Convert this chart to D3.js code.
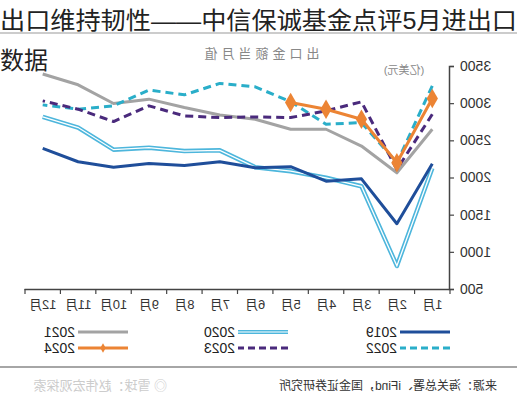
<!DOCTYPE html>
<html><head><meta charset="utf-8">
<script src="https://cdn.jsdelivr.net/npm/d3@7/dist/d3.min.js"></script>
<style>
html,body{margin:0;padding:0;background:#fff;}
svg{display:block;}
text{font-family:"Liberation Sans","Noto Sans CJK SC",sans-serif;}
</style></head>
<body>
<svg id="c" width="517" height="400"></svg>
<script>
const months = ["1月","2月","3月","4月","5月","6月","7月","8月","9月","10月","11月","12月"];
const yTicks = [500,1000,1500,2000,2500,3000,3500];
const s2019 = [2185,1378,1982,1950,2145,2131,2212,2162,2189,2139,2212,2392];
const s2020 = [2125,811,1882,1996,2085,2139,2365,2355,2401,2374,2672,2815];
const s2021 = [2649,2063,2423,2649,2649,2784,2842,2942,3054,2996,3247,3392];
const s2022 = [3234,2199,2739,2716,3020,3220,3266,3112,3176,2964,2919,2977];
const s2023 = [2851,2108,3018,2896,2806,2815,2806,2829,2964,2753,2919,3031];
const s2024 = [3064,2199,2784,2919,3009];
const seriesNames = ["2019","2020","2021","2022","2023","2024"];

const svg = d3.select("#c");
// Title (not mirrored)
svg.append("text").attr("x",0).attr("y",29).attr("font-size",24)
  .attr("font-family","Noto Sans CJK SC").attr("fill","#222")
  .attr("textLength",517).attr("lengthAdjust","spacingAndGlyphs")
  .text("出口维持韧性——中信保诚基金点评5月进出口");
svg.append("text").attr("x",0).attr("y",69).attr("font-size",24)
  .attr("font-family","Noto Sans CJK SC").attr("fill","#222").text("数据");
svg.append("line").attr("x1",0).attr("x2",517).attr("y1",33).attr("y2",33)
  .attr("stroke","#999").attr("stroke-width",1.2);

// Mirrored chart group
const g = svg.append("g").attr("transform","translate(517,0) scale(-1,1)");

const x = d3.scaleBand().domain(months).range([67,492]);
const y = d3.scaleLinear().domain([500,3500]).range([289,66]);

g.append("text").attr("x",257).attr("y",58).attr("text-anchor","middle")
  .attr("font-size",13).attr("letter-spacing",4).attr("fill","#888")
  .attr("font-family","Noto Sans CJK SC").text("出口金额当月值");
g.append("text").attr("x",113).attr("y",74).attr("text-anchor","middle")
  .attr("font-size",11).attr("fill","#888")
  .attr("font-family","Noto Sans CJK SC").text("(亿美元)");

// Y axis
const yAxis = g.append("g").attr("transform","translate(67,0)")
  .call(d3.axisLeft(y).tickValues(yTicks).tickSize(4).tickPadding(6).tickFormat(d3.format("d")));
yAxis.select(".domain").attr("stroke","#444").attr("stroke-width",1.5);
yAxis.selectAll(".tick line").attr("stroke","#444").attr("stroke-width",1.2);
yAxis.selectAll("text").attr("font-size",14).attr("fill","#333")
  .attr("font-family","Liberation Sans");

// X axis
const xAxis = g.append("g").attr("transform","translate(0,289)")
  .call(d3.axisBottom(x).tickSize(0).tickPadding(13));
xAxis.select(".domain").attr("stroke","#444").attr("stroke-width",1.5);
xAxis.selectAll("text").attr("font-size",13).attr("fill","#333")
  .attr("font-family","Noto Sans CJK SC").attr("dy","0.5em");
const bounds = months.map(m => x(m)).concat([x(months[11]) + x.bandwidth()]);
xAxis.selectAll(".bt").data(bounds).enter().append("line").attr("class","bt")
  .attr("x1",d=>d).attr("x2",d=>d).attr("y1",0).attr("y2",5)
  .attr("stroke","#444").attr("stroke-width",1.2);

const cx = (d,i) => x(months[i]) + x.bandwidth()/2;
const line = d3.line().x((d,i)=>cx(d,i)).y(d=>y(d));

const styles = {
  "2019": {data:s2019, color:"#1f4e9a", w:3},
  "2020": {data:s2020, color:"#4db6dc", w:4.5, inner:true},
  "2021": {data:s2021, color:"#a3a3a3", w:3},
  "2022": {data:s2022, color:"#2aaec9", w:3, dash:"8,5"},
  "2023": {data:s2023, color:"#4a2a7c", w:3, dash:"8,5"},
  "2024": {data:s2024, color:"#ec8434", w:3, marker:true}
};
const order = ["2021","2020","2019","2022","2023","2024"];
order.forEach(k => {
  const s = styles[k];
  g.append("path").attr("d", line(s.data)).attr("fill","none")
    .attr("stroke", s.color).attr("stroke-width", s.w)
    .attr("stroke-dasharray", s.dash || null).attr("stroke-linejoin","round");
  if (s.inner) {
    g.append("path").attr("d", line(s.data)).attr("fill","none")
      .attr("stroke","#fff").attr("stroke-width",1.3);
  }
  if (s.marker) {
    g.selectAll(".mk").data(s.data).enter().append("path").attr("class","mk")
      .attr("d", d3.symbol().type(d3.symbolDiamond).size(110)())
      .attr("transform",(d,i)=>`translate(${cx(d,i)},${y(d)})`)
      .attr("fill", s.color);
  }
});

// Legend
const legPos = {
  "2019":[67,332],"2020":[229,332],"2021":[389,332],
  "2022":[67,348],"2023":[229,348],"2024":[389,348]
};
seriesNames.forEach(k => {
  const s = styles[k]; const [lx,ly] = legPos[k];
  g.append("line").attr("x1",lx).attr("x2",lx+50).attr("y1",ly).attr("y2",ly)
    .attr("stroke",s.color).attr("stroke-width",s.inner?4:3)
    .attr("stroke-dasharray", s.dash ? "7,4" : null);
  if (s.inner) g.append("line").attr("x1",lx).attr("x2",lx+50).attr("y1",ly).attr("y2",ly)
    .attr("stroke","#fff").attr("stroke-width",1.2);
  if (s.marker) g.append("path").attr("d", d3.symbol().type(d3.symbolDiamond).size(25)())
    .attr("transform",`translate(${lx+25},${ly})`).attr("fill",s.color);
  g.append("text").attr("x",lx+53).attr("y",ly+5).attr("font-size",14)
    .attr("fill","#222").attr("font-family","Liberation Sans").text(k);
});

// Bottom separator & source
g.append("line").attr("x1",0).attr("x2",517).attr("y1",367).attr("y2",367)
  .attr("stroke","#888").attr("stroke-width",1.5);
g.append("text").attr("x",20).attr("y",390).attr("font-size",12).attr("fill","#333")
  .attr("font-family","Noto Sans CJK SC").text("来源：海关总署、iFind，国金证券研究所");
g.append("text").attr("x",350).attr("y",390).attr("font-size",13).attr("fill","#ccc")
  .attr("font-family","Noto Sans CJK SC").text("◎ 雪球：赵伟宏观探索");
</script>
</body></html>
